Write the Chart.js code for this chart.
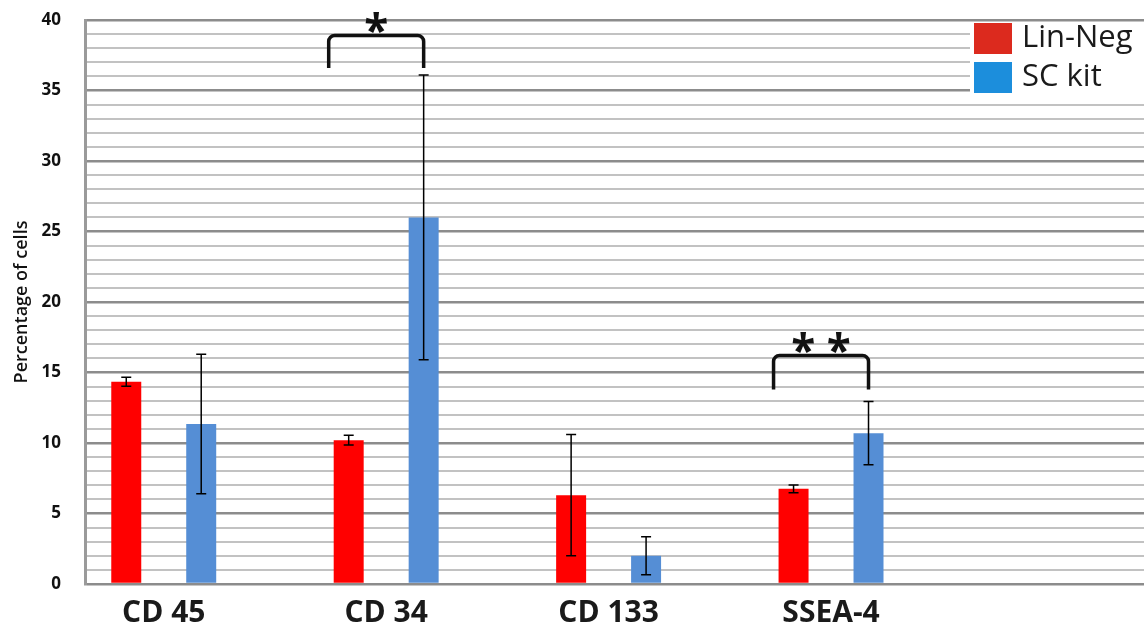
<!DOCTYPE html>
<html>
<head>
<meta charset="utf-8">
<script src="https://cdn.jsdelivr.net/npm/chart.js@4"></script>
<style>
  html, body { margin: 0; padding: 0; background: #fff; }
  #wrap { width: 1144px; height: 627px; }
</style>
</head>
<body>
<div id="wrap"><canvas id="cellsChart"></canvas></div>
<script>
// values (percentage of cells)
const markers = ['CD 45', 'CD 34', 'CD 133', 'SSEA-4'];
const seriesNames = ['Lin-Neg', 'SC kit'];
const linNeg = [14.35, 10.2, 6.3, 6.75];
const linNegErr = [0.32, 0.35, 4.3, 0.27];
const scKit = [11.35, 26.0, 2.0, 10.7];
const scKitErr = [4.95, 10.1, 1.35, 2.25];
const yMajorTicks = [0, 5, 10, 15, 20, 25, 30, 35, 40];

// significance brackets: marker index, bracket top and leg foot (in %), label
const sigMarks = [
    { index: 1, top: 38.9, foot: 36.6, label: '*' },
    { index: 3, top: 16.2, foot: 13.8, label: '* *' }
];

const barColors = ['#FF0000', '#558ED5'];
const legendColors = ['#DC2A1E', '#1C8EDC'];
const errors = [linNegErr, scKitErr];

const errorBarsPlugin = {
    id: 'errorBars',
    afterDatasetsDraw(chart) {
        const { ctx, scales: { y } } = chart;
        ctx.save();
        ctx.strokeStyle = '#000';
        ctx.lineWidth = 1.5;
        chart.data.datasets.forEach((ds, i) => {
            const meta = chart.getDatasetMeta(i);
            meta.data.forEach((bar, j) => {
                const v = ds.data[j].y;
                const e = errors[i][j];
                const top = y.getPixelForValue(v + e);
                const bottom = y.getPixelForValue(v - e);
                ctx.beginPath();
                ctx.moveTo(bar.x, top);
                ctx.lineTo(bar.x, bottom);
                ctx.moveTo(bar.x - 5, top);
                ctx.lineTo(bar.x + 5, top);
                ctx.moveTo(bar.x - 5, bottom);
                ctx.lineTo(bar.x + 5, bottom);
                ctx.stroke();
            });
        });
        ctx.restore();
    }
};

const bracketsPlugin = {
    id: 'brackets',
    afterDatasetsDraw(chart) {
        const { ctx, scales: { y } } = chart;
        const red = chart.getDatasetMeta(0).data;
        const blue = chart.getDatasetMeta(1).data;
        ctx.save();
        ctx.strokeStyle = '#111';
        ctx.lineWidth = 3.5;
        sigMarks.forEach(m => {
            const x1 = red[m.index].x - 20;
            const x2 = blue[m.index].x;
            const yt = y.getPixelForValue(m.top);
            const yf = y.getPixelForValue(m.foot);
            const r = 6;
            ctx.beginPath();
            ctx.moveTo(x1, yf);
            ctx.arcTo(x1, yt, x1 + r, yt, r);
            ctx.arcTo(x2, yt, x2, yt + r, r);
            ctx.lineTo(x2, yf);
            ctx.stroke();

            ctx.fillStyle = '#111';
            ctx.font = 'bold 44px "Open Sans"';
            ctx.textAlign = 'center';
            ctx.textBaseline = 'alphabetic';
            ctx.fillText(m.label, (x1 + x2) / 2, yt + 10);
        });
        ctx.restore();
    }
};

const legendPlugin = {
    id: 'boxLegend',
    afterDatasetsDraw(chart) {
        const { ctx, chartArea } = chart;
        const left = chartArea.right - 172;
        ctx.save();
        ctx.fillStyle = '#fff';
        ctx.fillRect(left - 2, chartArea.top + 2, 174, 78);
        ctx.font = '31px "Open Sans"';
        ctx.textAlign = 'left';
        ctx.textBaseline = 'middle';
        seriesNames.forEach((name, i) => {
            const top = chartArea.top + 3 + i * 39;
            ctx.fillStyle = legendColors[i];
            ctx.fillRect(left + 2, top, 38, 31);
            ctx.fillStyle = '#1a1a1a';
            ctx.fillText(name, left + 50, top + 15);
        });
        ctx.restore();
    }
};

const ctx = document.getElementById('cellsChart').getContext('2d');

new Chart(ctx, {
    type: 'bar',
    data: {
        datasets: [
            {
                label: seriesNames[0],
                data: linNeg.map((v, i) => ({ x: i, y: v })),
                backgroundColor: barColors[0]
            },
            {
                label: seriesNames[1],
                data: scKit.map((v, i) => ({ x: i, y: v })),
                backgroundColor: barColors[1]
            }
        ]
    },
    options: {
        responsive: true,
        maintainAspectRatio: false,
        animation: false,
        barPercentage: 0.4,
        categoryPercentage: 0.674,
        layout: { padding: { top: 20, right: 0, left: 0, bottom: 0 } },
        plugins: {
            legend: { display: false },
            tooltip: { enabled: false }
        },
        scales: {
            x: {
                type: 'linear',
                offset: false,
                min: -0.354,
                max: 4.407,
                afterBuildTicks(axis) {
                    axis.ticks = markers.map((m, i) => ({ value: i }));
                },
                afterFit(axis) { axis.height = 43; },
                grid: { display: false, drawTicks: false },
                border: { display: false },
                ticks: {
                    autoSkip: false,
                    maxRotation: 0,
                    padding: 11,
                    color: '#1a1a1a',
                    font: { family: 'Open Sans', size: 30, weight: 'bold' },
                    callback: (v) => markers[v] ?? ''
                }
            },
            y: {
                min: 0,
                max: 40,
                afterFit(axis) {
                    axis.width = 85;
                    axis.paddingTop = 0;
                    axis.paddingBottom = 0;
                },
                grid: {
                    drawTicks: false,
                    color: (c) => yMajorTicks.includes(c.tick.value) ? '#8c8c8c' : '#c2c2c2',
                    lineWidth: (c) => yMajorTicks.includes(c.tick.value) ? 2.5 : 2
                },
                border: { color: '#9a9a9a', width: 3 },
                ticks: {
                    stepSize: 1,
                    autoSkip: false,
                    padding: 24,
                    color: '#111',
                    font: { family: 'Open Sans', size: 17, weight: 'bold' },
                    callback: (v) => yMajorTicks.includes(v) ? v : ''
                },
                title: {
                    display: true,
                    text: 'Percentage of cells',
                    color: '#111',
                    padding: { top: 11, bottom: 0 },
                    font: { family: 'Open Sans', size: 18, weight: '600' }
                }
            }
        }
    },
    plugins: [errorBarsPlugin, bracketsPlugin, legendPlugin]
});
</script>
</body>
</html>
